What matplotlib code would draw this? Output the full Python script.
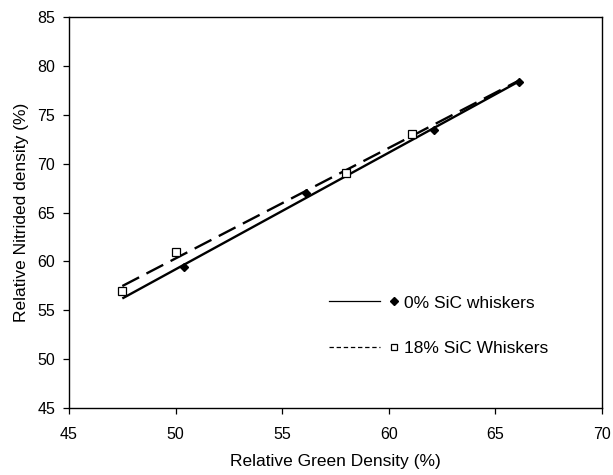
import numpy as np
import matplotlib
matplotlib.use("Agg")
import matplotlib.pyplot as plt
from matplotlib.lines import Line2D
from matplotlib.legend_handler import HandlerBase

plt.rcParams['font.family'] = ['Liberation Sans', 'DejaVu Sans']

# Data
green_0 = [50.4, 56.1, 62.1, 66.1]
nitrided_0 = [59.4, 67.0, 73.4, 78.4]
green_18 = [47.5, 50.0, 58.0, 61.1]
nitrided_18 = [57.0, 61.0, 69.0, 73.0]
trend_x_range = [47.5, 66.1]
label_0 = "0% SiC whiskers"
label_18 = "18% SiC Whiskers"
xticks = [45, 50, 55, 60, 65, 70]
yticks = [45, 50, 55, 60, 65, 70, 75, 80, 85]

fig = plt.figure(figsize=(6.13, 4.75), dpi=100)
ax = fig.add_axes([0.1126, 0.141, 0.8695, 0.823])

xs = np.array(trend_x_range)
p0 = np.polyfit(green_0, nitrided_0, 1)
p18 = np.polyfit(green_18, nitrided_18, 1)

ax.plot(xs, np.polyval(p0, xs), color='black', lw=1.7, solid_capstyle='butt', zorder=2)
ax.plot(xs, np.polyval(p18, xs), color='black', lw=1.7, linestyle=(0, (8, 3.5)), zorder=2)
ax.plot(green_0, nitrided_0, linestyle='none', marker='D', ms=4.5, mfc='black', mec='black', zorder=3)
ax.plot(green_18, nitrided_18, linestyle='none', marker='s', ms=5.5, mfc='white', mec='black', mew=0.9, zorder=3)

ax.set_xlim(45, 70)
ax.set_ylim(45, 85)
ax.set_xticks(xticks)
ax.set_yticks(yticks)
ax.tick_params(direction='out', length=4.5, width=0.9, labelsize=11.5, colors='black')
ax.tick_params(axis='x', pad=9.5)
ax.tick_params(axis='y', pad=5.5)
for s in ax.spines.values():
    s.set_linewidth(1.0)
    s.set_color('black')
ax.set_xlabel("Relative Green Density (%)", fontsize=12.5, labelpad=8)
ax.set_ylabel("Relative Nitrided density (%)", fontsize=12.5, labelpad=6)


class LineThenMarker(HandlerBase):
    def create_artists(self, legend, orig, xd, yd, w, h, fs, trans):
        y = h / 2 - yd
        l = Line2D([-xd, -xd + w * 0.75], [y, y], color='black',
                   linestyle=orig.get_linestyle(), lw=0.9)
        if orig.get_label() == label_18:
            l.set_linestyle((0, (3.5, 2.2)))
        m = Line2D([-xd + w * 0.94], [y], marker=orig.get_marker(),
                   ms=orig.get_markersize(), mfc=orig.get_markerfacecolor(),
                   mec='black', mew=orig.get_markeredgewidth(), linestyle='none')
        l.set_transform(trans)
        m.set_transform(trans)
        return [l, m]


h0 = Line2D([], [], color='black', linestyle='-', marker='D', ms=4, mfc='black', mec='black', label=label_0)
h18 = Line2D([], [], color='black', linestyle='--', marker='s', ms=5, mfc='white', mec='black', mew=0.9, label=label_18)
leg = ax.legend(handles=[h0, h18], handler_map={Line2D: LineThenMarker()},
                loc='center left', bbox_to_anchor=(0.458, 0.21), frameon=False,
                fontsize=12.5, handlelength=3.97, handletextpad=0.35, labelspacing=1.77)

fig.savefig("out.png", dpi=100)
